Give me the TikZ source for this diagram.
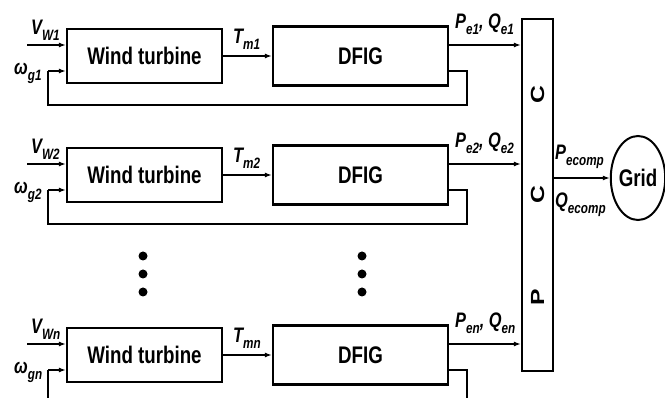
\documentclass[tikz,border=0pt]{standalone}
\usepackage{fontspec}
\setmainfont{Liberation Sans}[FakeStretch=0.78]
\newfontfamily\plainsans{Liberation Sans}
\usetikzlibrary{arrows.meta,calc,shapes.geometric}
\newcommand\lsub[1]{\raisebox{-5.5pt}{\fontsize{15}{15}\selectfont #1}}
\begin{document}
\begin{tikzpicture}[x=1pt,y=-1pt,
  wt/.style={draw, line width=2.2pt, inner sep=0pt, minimum width=155pt, minimum height=54pt, font=\fontsize{24}{24}\selectfont\bfseries},
  dfigbox/.style={draw, line width=2.2pt, inner sep=0pt, minimum width=175pt, minimum height=59pt, font=\fontsize{24}{24}\selectfont\bfseries},
  lbl/.style={inner sep=0pt, anchor=base west, font=\fontsize{21}{21}\selectfont\bfseries\itshape},
  arr/.style={line width=1.3pt, -{Latex[length=7pt,width=5pt]}},
  fb/.style={line width=2.4pt},
  pccl/.style={inner sep=0pt, font=\plainsans\fontsize{19}{19}\selectfont\bfseries}]
\useasboundingbox (0,0) rectangle (665,398);

\foreach \r/\c in {1/56, 2/175, n/355} {
  \node[wt] (wt\r) at (144.5,\c) {Wind turbine};
  \node[dfigbox] (dfig\r) at (360.5,\c) {DFIG};
  \coordinate (vin\r) at (27,\c-11);
  \draw[arr] (vin\r) -- (vin\r -| wt\r.west);
  \node[lbl] (vl\r) at (31,\c-21) {V\lsub{W\r}};
  \node[lbl] (wl\r) at (14,\c+19) {ω\lsub{g\r}};
  \draw[arr] (wt\r) -- (dfig\r);
  \node[lbl] (tl\r) at (233,\c-12) {T\lsub{m\r}};
  \path (dfig\r.east) ++(0,-11) coordinate (pout\r);
}

\node[draw, line width=2.2pt, inner sep=0pt, minimum width=31pt, minimum height=352pt] (pcc) at (537.5,195) {};
\node[pccl] (pccC1) at (537.5,95) {\rotatebox{90}{\scalebox{1.3}[1]{C}}};
\node[pccl] (pccC2) at (537.5,195) {\rotatebox{90}{\scalebox{1.3}[1]{C}}};
\node[pccl] (pccP) at (537.5,297) {\rotatebox{90}{\scalebox{1.3}[1]{P}}};

\foreach \r/\c in {1/56, 2/175, n/355} {
  \draw[arr] (pout\r) -- (pout\r -| pcc.west);
  \node[lbl] (pl\r) at (455,\c-27) {P\lsub{e\r}, Q\lsub{e\r}};
}

% feedback loops
\foreach \r/\c in {1/56, 2/175} {
  \coordinate (fbr\r) at (467,\c+49);
  \coordinate (fbl\r) at (48,\c+15);
  \draw[fb] ($(dfig\r.east)+(0,15)$) -| (fbr\r) -| (fbl\r);
  \draw[arr] (fbl\r) -- (fbl\r -| wt\r.west);
}
\coordinate (fbrn) at (467,402);
\coordinate (fbln) at (48,370);
\coordinate (fbbn) at (48,402);
\draw[fb] ($(dfign.east)+(0,15)$) -| (fbrn);
\draw[fb] (fbbn) -- (fbln);
\draw[arr] (fbln) -- (fbln -| wtn.west);

% dots
\foreach \x in {143,362} {
  \foreach \y in {256,274,292} {
    \fill (\x,\y) circle (4.5pt);
  }
}

\node[ellipse, draw, line width=2pt, inner sep=0pt, minimum width=53pt, minimum height=84pt, font=\fontsize{24}{24}\selectfont\bfseries] (grid) at (638,178) {Grid};
\draw[arr] (grid.west -| pcc.east) -- (grid.west);
\node[lbl] (pec) at (555,160) {P\lsub{ecomp}};
\node[lbl] (qec) at (555,208) {Q\lsub{ecomp}};
\end{tikzpicture}
\end{document}
